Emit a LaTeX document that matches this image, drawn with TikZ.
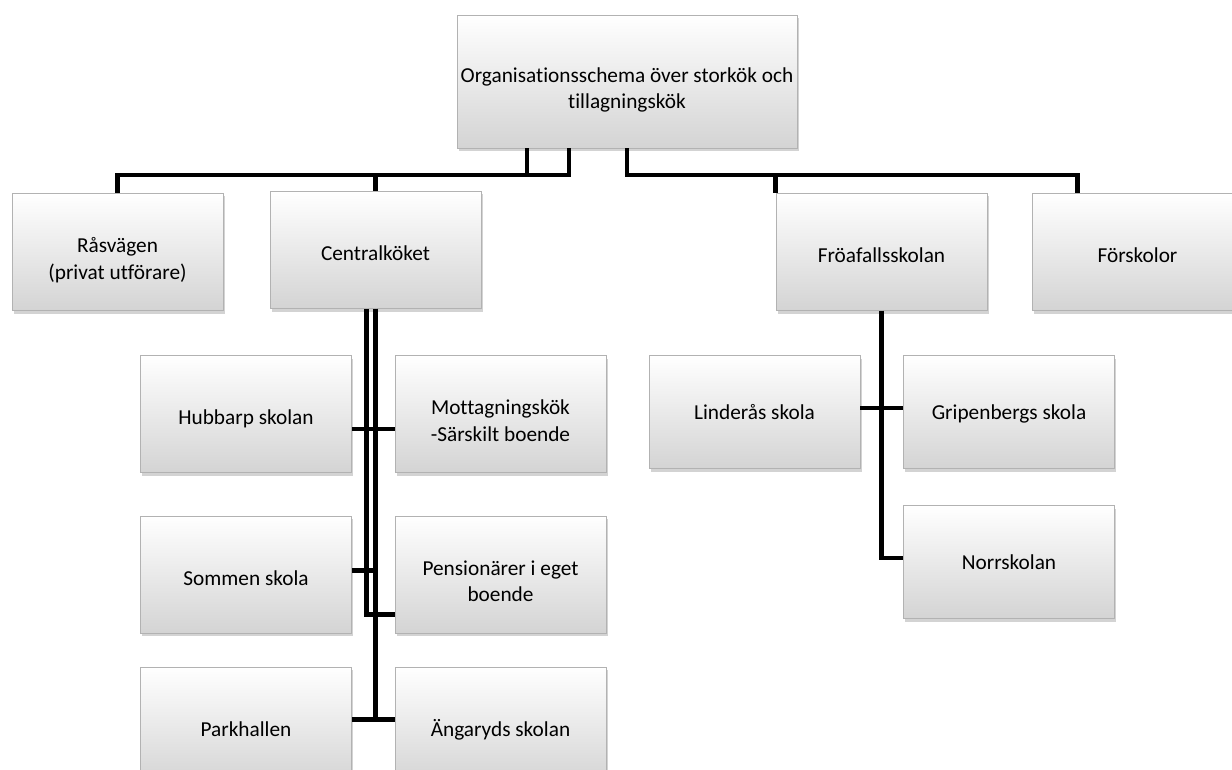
\documentclass[tikz,border=0pt]{standalone}
\usepackage{fontspec}
\setmainfont{Carlito}[Ligatures=NoCommon]
\usepackage{xcolor}
\usetikzlibrary{shadows}
\usetikzlibrary{calc}
\newcommand{\twoline}[2]{\rule{0pt}{33pt}#1\\#2\rule[-5pt]{0pt}{0pt}}

\begin{document}
\begin{tikzpicture}[x=1pt,y=-1pt]
          \useasboundingbox (0,0) rectangle (1232,770);
          \begin{scope}[every node/.style={rectangle,draw=black!30,line width=0.6pt,
              top color=white,bottom color=black!17,
              drop shadow={shadow xshift=1.5pt,shadow yshift=-3pt,opacity=0.35},
              minimum width=211pt,minimum height=117pt,align=center,
              font=\fontsize{21.3}{26.5}\selectfont},
              oneline/.style={execute at begin node={\rule{0pt}{#1}},
              execute at end node={\rule[-5pt]{0pt}{0pt}}},
              oneline/.default=26pt]
            \node[minimum width=340pt,minimum height=133pt] (top) at (627,81.5) {\twoline{Organisationsschema över storkök och}{tillagningskök}};
            \node (ras) at (117.5,252) {\twoline{Råsvägen}{(privat utförare)}};
            \node[oneline] (cent) at (375.5,250) {Centralköket};
            \node[oneline] (froa) at (881.5,252) {Fröafallsskolan};
            \node[oneline] (forsk) at (1137.5,252) {Förskolor};
            \node[oneline] (hubb) at (246,414) {Hubbarp skolan};
            \node (mott) at (500.5,414) {\twoline{Mottagningskök}{-Särskilt boende}};
            \node[oneline] (somm) at (246,574.5) {Sommen skola};
            \node (pens) at (500.5,574.5) {\twoline{Pensionärer i eget}{boende}};
            \node[oneline] (park) at (246,725.5) {Parkhallen};
            \node[oneline] (anga) at (500.5,725.5) {Ängaryds skolan};
            \node[oneline=19pt,minimum height=113pt] (lind) at (754.5,412) {Linderås skola};
            \node[oneline=19pt,minimum height=113pt] (grip) at (1009,412) {Gripenbergs skola};
            \node[oneline=19pt,minimum height=113pt] (norr) at (1009,562) {Norrskolan};
          \end{scope}
          \coordinate (bus) at (0,175);
          \begin{scope}[every path/.style={draw=black,line width=4.5pt}]
            % top level
            \path ([xshift=-100pt]top.south) |- (bus -| ras) -- (ras.north);
            \path ([xshift=-58pt]top.south) |- (bus -| cent) -- (cent.north);
            \path (top.south) |- (bus -| froa.west) -- (froa.north west);
            \path (top.south) |- (bus -| {$(forsk.north west)+(46,0)$}) -- ($(forsk.north west)+(46,0)$);
            % Centralköket
            \path ([xshift=-9pt]cent.south) |- ([yshift=-40pt]pens.west);
            \path ([yshift=4pt]somm.east) -| (cent.south);
            \path (cent.south) |- ([yshift=-15pt]hubb.east);
            \path (cent.south) |- ([yshift=-15pt]mott.west);
            \path (cent.south) |- ([yshift=6pt]park.east);
            \path (cent.south) |- ([yshift=6pt]anga.west);
            % Fröafallsskolan
            \path (froa.south) |- ([yshift=4pt]lind.east);
            \path (froa.south) |- ([yshift=4pt]grip.west);
            \path (froa.south) |- ([yshift=4pt]norr.west);
          \end{scope}
        \end{tikzpicture}
\end{document}
